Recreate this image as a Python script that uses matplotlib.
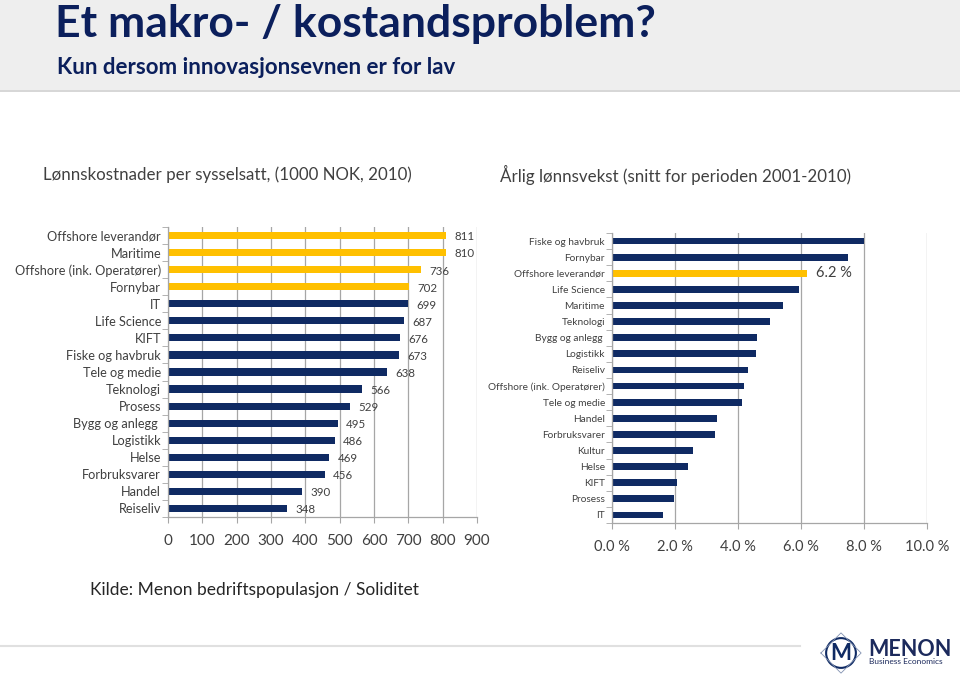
import numpy as np
import matplotlib.pyplot as plt
from matplotlib.patches import Rectangle, Circle
from matplotlib.ticker import FuncFormatter

plt.rcParams['font.family'] = ['Lato', 'DejaVu Sans']

# lønnskostnader per sysselsatt (1000 NOK, 2010)
cost_labels = ['Offshore leverandør', 'Maritime', 'Offshore (ink. Operatører)', 'Fornybar',
               'IT', 'Life Science', 'KIFT', 'Fiske og havbruk', 'Tele og medie', 'Teknologi',
               'Prosess', 'Bygg og anlegg ', 'Logistikk', 'Helse', 'Forbruksvarer', 'Handel',
               'Reiseliv']
cost_values = [811, 810, 736, 702, 699, 687, 676, 673, 638, 566, 529, 495, 486, 469, 456, 390, 348]
cost_highlight = [True, True, True, True] + [False] * 13

# årlig lønnsvekst (snitt 2001-2010), prosent
growth_labels = ['Fiske og havbruk', 'Fornybar', 'Offshore leverandør', 'Life Science', 'Maritime',
                 'Teknologi', 'Bygg og anlegg ', 'Logistikk', 'Reiseliv', 'Offshore (ink. Operatører)',
                 'Tele og medie', 'Handel', 'Forbruksvarer', 'Kultur', 'Helse', 'KIFT', 'Prosess', 'IT']
growth_values = [8.0, 7.5, 6.2, 5.95, 5.43, 5.0, 4.6, 4.57, 4.32, 4.18, 4.14, 3.33, 3.26,
                 2.58, 2.41, 2.07, 1.96, 1.62]
growth_highlight = [False, False, True] + [False] * 15

navy = '#0f2a63'
gold = '#ffc000'
grid_c = '#a6a6a6'
txt = '#404040'

fig = plt.figure(figsize=(9.6, 6.82), dpi=100)

# topptekst med grå bakgrunn
fig.patches.append(Rectangle((0, 1 - 90 / 682), 1, 90 / 682, transform=fig.transFigure,
                             facecolor='#eeeeee', edgecolor='none', zorder=0))
fig.add_artist(plt.Line2D([0, 1], [1 - 91 / 682] * 2, color='#d0d0d0', lw=1.2))
fig.text(55 / 960, 1 - 24 / 682, 'Et makro- / kostandsproblem?', fontsize=32, fontweight='bold',
         color='#0b1f5c', va='center')
fig.text(57 / 960, 1 - 67 / 682, 'Kun dersom innovasjonsevnen er for lav', fontsize=16,
         fontweight='bold', color='#0b1f5c', va='center')

fig.text(43 / 960, 1 - 175 / 682, 'Lønnskostnader per sysselsatt, (1000 NOK, 2010)',
         fontsize=12.2, color=txt, va='center')
fig.text(500 / 960, 1 - 175 / 682, 'Årlig lønnsvekst (snitt for perioden 2001-2010)',
         fontsize=12.2, color=txt, va='center')


def style_axes(ax, n, labsize):
    ax.set_ylim(n - 0.5, -0.5)
    ax.set_yticks(np.arange(n))
    ax.set_yticks(np.arange(n + 1) - 0.5, minor=True)
    ax.tick_params(axis='y', which='major', length=0, labelsize=labsize, labelcolor=txt, pad=5)
    ax.tick_params(axis='y', which='minor', length=4, color=grid_c, direction='out')
    ax.tick_params(axis='x', length=4, color=grid_c, labelcolor=txt, pad=8)
    ax.grid(axis='x', color=grid_c, lw=0.9)
    ax.set_axisbelow(True)
    for s in ['top', 'right']:
        ax.spines[s].set_visible(False)
    for s in ['left', 'bottom']:
        ax.spines[s].set_color(grid_c)
        ax.spines[s].set_linewidth(0.9)


# venstre diagram
ax1 = fig.add_axes([168 / 960, 1 - 517 / 682, 309 / 960, 290 / 682])
y1 = np.arange(len(cost_values))
ax1.barh(y1, cost_values, height=0.42, color=[gold if h else navy for h in cost_highlight])
ax1.set_xlim(0, 900)
ax1.set_xticks(np.arange(0, 901, 100))
style_axes(ax1, len(cost_values), 9.2)
ax1.set_yticklabels(cost_labels)
ax1.tick_params(axis='x', labelsize=11)
for yy, v in zip(y1, cost_values):
    ax1.annotate(str(v), (v, yy), xytext=(6, -1), textcoords='offset points',
                 fontsize=8.3, color=txt, va='center', ha='left')

# høyre diagram
ax2 = fig.add_axes([612 / 960, 1 - 523 / 682, 315 / 960, 290 / 682])
y2 = np.arange(len(growth_values))
ax2.barh(y2, growth_values, height=0.42, color=[gold if h else navy for h in growth_highlight])
ax2.set_xlim(0, 10)
ax2.set_xticks(np.arange(0, 10.1, 2))
ax2.xaxis.set_major_formatter(FuncFormatter(lambda v, p: f'{v:.1f} %'))
style_axes(ax2, len(growth_values), 7.3)
ax2.set_yticklabels(growth_labels)
ax2.tick_params(axis='x', labelsize=10.5)
for yy, v, h in zip(y2, growth_values, growth_highlight):
    if h:
        ax2.annotate(f'{v:.1f} %', (v, yy), xytext=(6, 0), textcoords='offset points',
                     fontsize=10.5, color=txt, va='center', ha='left')

# kilde og bunnlinje
fig.text(90 / 960, 1 - 590 / 682, 'Kilde: Menon bedriftspopulasjon / Soliditet', fontsize=12.5,
         color='#262626', va='center')
fig.add_artist(plt.Line2D([0, 800 / 960], [1 - 646 / 682] * 2, color='#e0e0e0', lw=1.5))

# logo
logo = fig.add_axes([820 / 960, 1 - 676 / 682, 42 / 960, 46 / 682])
logo.set_xlim(-1.2, 1.2)
logo.set_ylim(-1.3, 1.3)
logo.set_aspect('equal')
logo.axis('off')
logo.add_patch(Circle((0, 0), 0.85, fill=False, ec=navy, lw=1.5))
logo.plot([-1.15, 0, 1.15, 0, -1.15], [0, 1.15, 0, -1.15, 0], color='#8090b0', lw=0.6)
logo.text(0, -0.05, 'M', fontsize=16, fontweight='bold', color=navy, ha='center', va='center')
fig.text(868 / 960, 1 - 649 / 682, 'MENON', fontsize=15.5, fontweight='bold', color='#1c2a5c',
         va='center')
fig.text(869 / 960, 1 - 662 / 682, 'Business Economics', fontsize=6, color='#1c2a5c', va='center')

fig.savefig('out.png', dpi=100)
